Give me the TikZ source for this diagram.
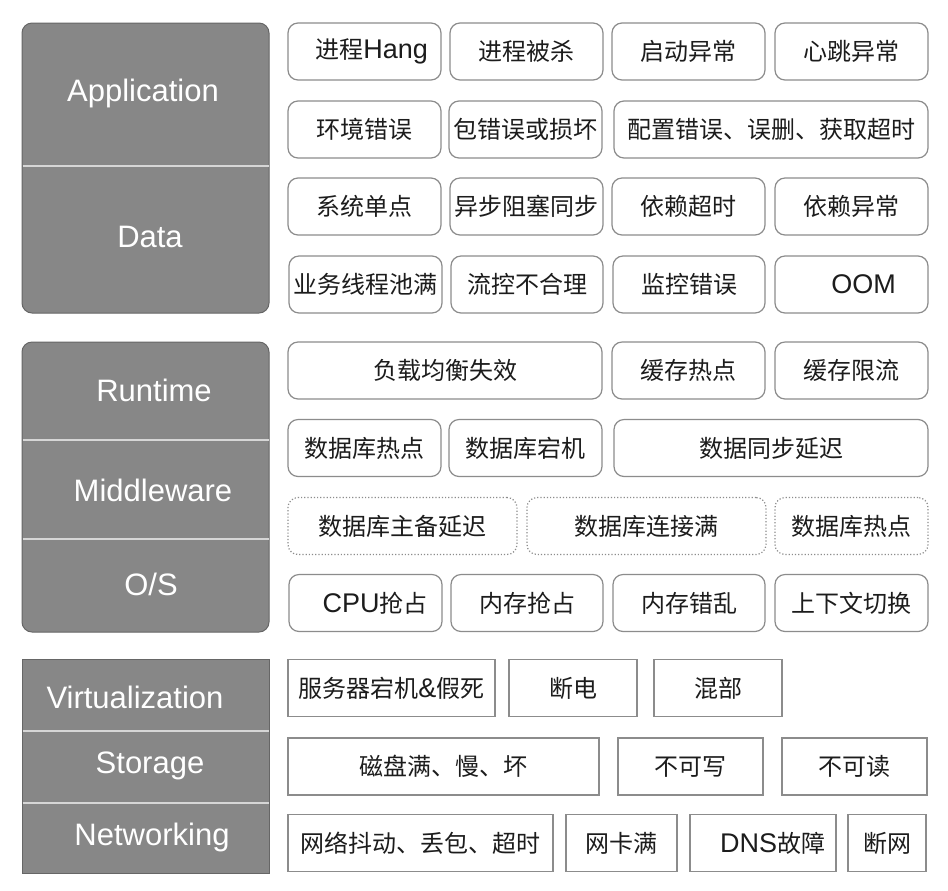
\documentclass[tikz,border=0pt]{standalone}
\usepackage{fontspec}
\setmainfont{Liberation Sans}
\newfontfamily\cjk{Noto Sans CJK SC}
\newfontfamily\latfont{Liberation Sans}
\usepackage{tikz}
\usetikzlibrary{positioning}
\definecolor{panel}{HTML}{878787}
\definecolor{paneldraw}{HTML}{666666}
\definecolor{sepc}{HTML}{D6D6D6}
\definecolor{celldraw}{HTML}{8C8C8C}
\definecolor{ink}{HTML}{1C1C1C}
\tikzset{
  layer/.style={draw=paneldraw,fill=panel,rounded corners=5pt,inner sep=0pt,line width=0.5pt},
  rlayer/.style={layer,sharp corners},
  lname/.style={font=\fontsize{15.5}{18}\selectfont,text=white},
  cell/.style={draw=celldraw,fill=white,rounded corners=5pt,minimum height=28.5pt,inner sep=0pt,
    font=\cjk\fontsize{12}{14}\selectfont,text=ink,line width=0.6pt},
  dcell/.style={cell,densely dotted},
  rcell/.style={cell,sharp corners},
  sep/.style={draw=sepc,line width=0.8pt}
}
\newcommand{\pad}[1]{\hspace*{#1em}}
\newcommand{\lat}{\latfont\fontsize{13.5}{14}\selectfont}
\begin{document}
\begin{tikzpicture}[x=0.5pt,y=-0.5pt]
  \useasboundingbox[fill=white] (0,0) rectangle (948,890);
  \node[layer,minimum width=123.5pt,minimum height=145pt] (top) at (145.5,168) {};
  \node[layer,minimum width=123.5pt,minimum height=145pt] (mid) at (145.5,487) {};
  \node[rlayer,minimum width=123.5pt,minimum height=107pt] (low) at (145.5,766) {};
  \draw[sep] (22.5,166) -- (268.5,166);
  \draw[sep] (22.5,440) -- (268.5,440);
  \draw[sep] (22.5,539) -- (268.5,539);
  \draw[sep] (22.5,731) -- (268.5,731);
  \draw[sep] (22.5,803) -- (268.5,803);
  \node[lname] (lapp) at (143,93) {Application};
  \node[lname] (ldata) at (150,237) {Data};
  \node[lname] (lrun) at (154,390) {Runtime};
  \node[lname] (lmid) at (153,490) {Middleware};
  \node[lname] (los) at (151,584) {O/S};
  \node[lname] (lvirt) at (135,697) {Virtualization};
  \node[lname] (lstor) at (150,766) {Storage};
  \node[lname] (lnet) at (152,837) {Networking};
  \foreach \n/\s/\a/\b/\y/\t in {
      a1/cell/288/441/51.5/\pad{0.6}进程{\lat Hang}, a2/cell/450/603/51.5/进程被杀,
      a3/cell/612/765/51.5/启动异常, a4/cell/775/928/51.5/心跳异常,
      b1/cell/288/441/129.5/环境错误, b2/cell/449/602/129.5/包错误或损坏,
      b3/cell/614/928/129.5/配置错误、误删、获取超时,
      c1/cell/288/441/206.5/系统单点, c2/cell/450/603/206.5/异步阻塞同步,
      c3/cell/612/765/206.5/依赖超时, c4/cell/775/928/206.5/依赖异常,
      d1/cell/289/442/284.5/业务线程池满, d2/cell/451/603/284.5/流控不合理,
      d3/cell/613/765/284.5/监控错误, d4/cell/775/928/284.5/\pad{1}{\lat OOM},
      e1/cell/288/602/370.5/负载均衡失效, e2/cell/612/765/370.5/缓存热点,
      e3/cell/775/928/370.5/缓存限流,
      f1/cell/288/441/448/数据库热点, f2/cell/449/602/448/数据库宕机,
      f3/cell/614/928/448/数据同步延迟,
      g1/dcell/288/517/526/数据库主备延迟, g2/dcell/527/766/526/数据库连接满,
      g3/dcell/775/928/526/数据库热点,
      h1/cell/289/442/603/\pad{0.8}{\lat CPU}抢占, h2/cell/451/603/603/内存抢占,
      h3/cell/613/765/603/内存错乱, h4/cell/775/928/603/上下文切换,
      i1/rcell/288/495/688/服务器宕机{\lat\&}假死, i2/rcell/509/637/688/断电,
      i3/rcell/654/782/688/混部,
      j1/rcell/288/599/766.5/磁盘满、慢、坏, j2/rcell/618/763/766.5/不可写,
      j3/rcell/782/927/766.5/不可读,
      k1/rcell/288/553/843/网络抖动、丢包、超时, k2/rcell/566/677/843/网卡满,
      k3/rcell/690/836/843/\pad{0.8}{\lat DNS}故障, k4/rcell/848/926/843/断网}
    {\node[\s,minimum width={(\b-\a)*0.5pt}] (\n) at ({(\a+\b)/2},\y) {\t};}
\end{tikzpicture}
\end{document}
